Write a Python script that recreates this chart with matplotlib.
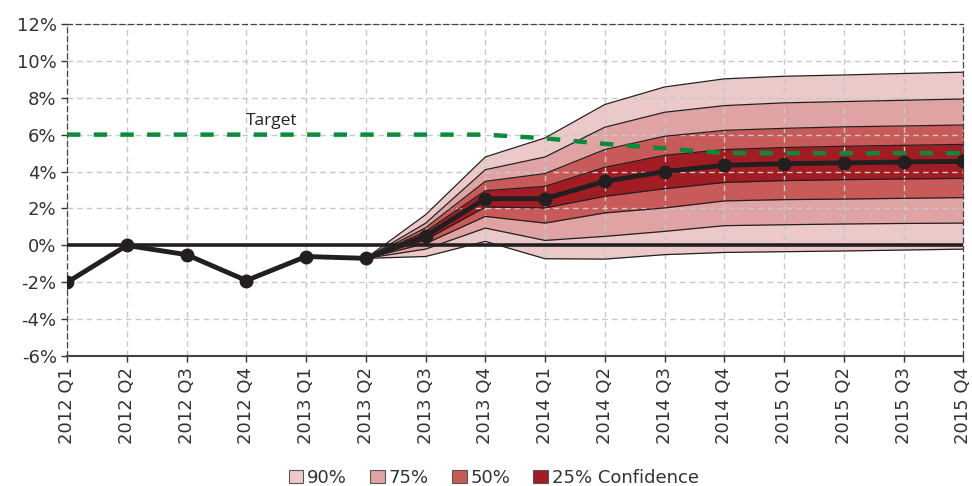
import matplotlib.pyplot as plt
from matplotlib.patches import Patch
import numpy as np

plt.rcParams['font.family'] = ['DejaVu Sans']

quarters = ['2012 Q1', '2012 Q2', '2012 Q3', '2012 Q4', '2013 Q1', '2013 Q2',
            '2013 Q3', '2013 Q4', '2014 Q1', '2014 Q2', '2014 Q3', '2014 Q4',
            '2015 Q1', '2015 Q2', '2015 Q3', '2015 Q4']

# 中位数路径 (%)
median = [-2.0, 0.0, -0.5, -1.9, -0.6, -0.7, 0.5, 2.53, 2.53, 3.47, 4.0, 4.34,
          4.43, 4.47, 4.52, 4.55]
target = [6, 6, 6, 6, 6, 6, 6, 6, 5.8, 5.5, 5.25, 5.0, 5.0, 5.0, 5.0, 5.0]

# 预测区间, 从 2013 Q2 开始
fan_start = 5
hi90 = [-0.7, 1.66, 4.79, 5.82, 7.63, 8.58, 9.02, 9.16, 9.23, 9.31, 9.38]
hi75 = [-0.7, 1.2, 4.10, 4.79, 6.40, 7.21, 7.57, 7.72, 7.79, 7.86, 7.93]
hi50 = [-0.7, 0.95, 3.47, 3.89, 5.19, 5.91, 6.23, 6.34, 6.42, 6.47, 6.52]
hi25 = [-0.7, 0.75, 2.96, 3.20, 4.23, 4.88, 5.19, 5.30, 5.37, 5.42, 5.47]
lo25 = [-0.7, 0.3, 2.08, 2.03, 2.66, 3.07, 3.41, 3.51, 3.56, 3.60, 3.63]
lo50 = [-0.7, 0.1, 1.57, 1.21, 1.76, 2.03, 2.41, 2.48, 2.51, 2.55, 2.59]
lo75 = [-0.7, -0.2, 0.94, 0.27, 0.49, 0.76, 1.07, 1.12, 1.16, 1.19, 1.21]
lo90 = [-0.7, -0.6, 0.22, -0.72, -0.74, -0.50, -0.38, -0.34, -0.30, -0.25, -0.20]

bands = [('90%', hi90, lo90, '#ebc9c9'),
         ('75%', hi75, lo75, '#dfa3a3'),
         ('50%', hi50, lo50, '#c85a5a'),
         ('25% Confidence', hi25, lo25, '#a21c23')]

x = np.arange(len(quarters))
xf = x[fan_start:]

fig = plt.figure(figsize=(9.72, 4.86), dpi=100)
ax = fig.add_axes([0.069, 0.267, 0.922, 0.684])

for name, hi, lo, col in bands:
    ax.fill_between(xf, lo, hi, color=col, lw=0, zorder=1)
    ax.plot(xf, hi, color='#231f20', lw=0.9, zorder=2)
    ax.plot(xf, lo, color='#231f20', lw=0.9, zorder=2)

ax.plot(x, target, color='#0a8a3a', lw=3.2, dashes=(3, 3), zorder=3)
ax.text(3.42, 6.75, 'Target', fontsize=12.5, color='#222222', ha='center', va='center',
        family=['Open Sans', 'DejaVu Sans'])

ax.grid(True, color='#c8c8c8', ls=(0, (4, 3)), lw=1.0)
for gl in ax.get_xgridlines() + ax.get_ygridlines():
    gl.set_zorder(4)

ax.axhline(0, color='#231f20', lw=2.6, zorder=5)
ax.plot(x, median, color='#231f20', lw=3.5, marker='o', ms=9, zorder=6)

ax.set_xlim(0, len(quarters) - 1)
ax.set_ylim(-6, 12)
ax.set_yticks(np.arange(-6, 13, 2))
ax.set_yticklabels(['%d%%' % v for v in range(-6, 13, 2)])
ax.set_xticks(x)
ax.set_xticklabels(quarters, rotation=90)
ax.tick_params(labelsize=13, colors='#333333', length=4, width=1)

for s in ['top', 'right', 'left']:
    ax.spines[s].set_linestyle((0, (4, 3)))
    ax.spines[s].set_color('#444444')
    ax.spines[s].set_linewidth(0.9)
ax.spines['bottom'].set_color('#444444')
ax.spines['bottom'].set_linewidth(1.5)

handles = [Patch(facecolor=c, edgecolor='#555555', lw=0.8, label=n) for n, h, l, c in bands]
fig.legend(handles=handles, loc='lower center', bbox_to_anchor=(0.508, -0.035), ncol=4,
           frameon=False, fontsize=13, handlelength=0.8, handleheight=0.8,
           handletextpad=0.2, columnspacing=1.3, labelcolor='#333333')

plt.savefig('out.png', dpi=100)
